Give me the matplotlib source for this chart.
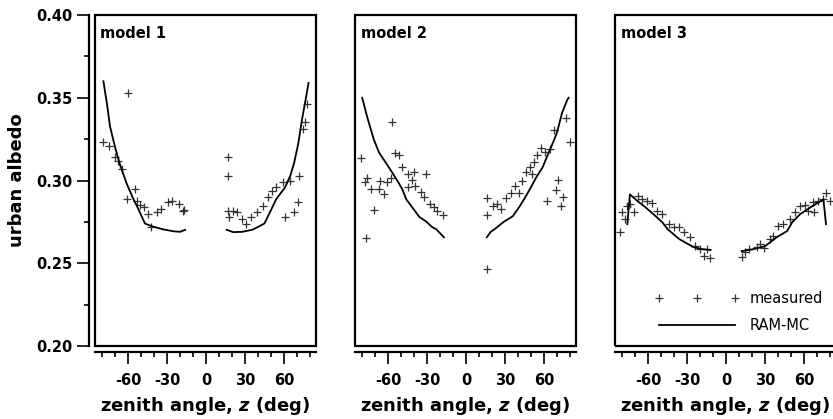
import numpy as np
import matplotlib
matplotlib.use('Agg')
import matplotlib.pyplot as plt
from matplotlib.patches import Rectangle
from matplotlib.ticker import MultipleLocator

plt.rcParams['font.family'] = 'DejaVu Sans'
plt.rcParams['font.weight'] = 'bold'
plt.rcParams['axes.unicode_minus'] = False
plt.rcParams['mathtext.fontset'] = 'custom'
plt.rcParams['mathtext.it'] = 'DejaVu Sans:italic:bold'

titles = ['model 1', 'model 2', 'model 3']

# measured albedo, model 1
meas1_x = [-79, -75, -70, -68, -65, -60, -61, -55, -53, -51, -48, -45, -42, -38, -35,
           -29, -26, -21, -18, -17,
           17, 17, 17, 18, 21, 24, 28, 31, 35, 39, 44, 48, 51, 54, 59, 61, 65, 68,
           71, 72, 75, 76, 78]
meas1_y = [0.323, 0.3206, 0.3145, 0.3115, 0.3067, 0.353, 0.289, 0.2946, 0.2874, 0.285,
           0.284, 0.2796, 0.272, 0.281, 0.2826, 0.287, 0.2874, 0.2856, 0.2814, 0.282,
           0.3145, 0.303, 0.2814, 0.2777, 0.2814, 0.281, 0.2766, 0.2736, 0.2777, 0.281,
           0.2844, 0.290, 0.2935, 0.2958, 0.299, 0.278, 0.300, 0.281, 0.287, 0.3025,
           0.331, 0.3356, 0.346]
# RAM-MC, model 1 (negative and positive branch)
ram1_xl = [-79, -76, -74, -70, -66, -61, -56, -52, -47, -41, -33, -25, -20, -16]
ram1_yl = [0.360, 0.345, 0.333, 0.320, 0.309, 0.298, 0.289, 0.2826, 0.274, 0.2722,
           0.2705, 0.2693, 0.269, 0.2702]
ram1_xr = [16, 21, 28, 36, 45, 50, 54, 61, 65, 68, 71, 74, 77, 79]
ram1_yr = [0.2702, 0.2688, 0.269, 0.2703, 0.274, 0.282, 0.2886, 0.296, 0.303, 0.311,
           0.322, 0.337, 0.350, 0.359]

# model 2
meas2_x = [-81, -78, -76, -73, -71, -77, -67, -66, -63, -61, -58, -57, -55, -52, -49,
           -45, -45, -42, -40, -39, -35, -31, -32, -28, -25, -22, -18,
           16, 16, 16, 21, 24, 27, 31, 35, 38, 41, 43, 46, 49, 51, 52, 55, 58, 61,
           65, 68, 77, 80, 62, 69, 71, 75, 73]
meas2_y = [0.3139, 0.2988, 0.3018, 0.2946, 0.282, 0.2652, 0.2946, 0.2995, 0.2916,
           0.2988, 0.3018, 0.3356, 0.3169, 0.3157, 0.3079, 0.3037, 0.2958, 0.3006,
           0.3049, 0.2965, 0.2928, 0.3037, 0.2898, 0.2856, 0.2838, 0.2814, 0.279,
           0.2465, 0.279, 0.2892, 0.2844, 0.2856, 0.2826, 0.2892, 0.2922, 0.2965,
           0.2922, 0.2995, 0.305, 0.3079, 0.3037, 0.3109, 0.3157, 0.3199, 0.3175,
           0.3193, 0.3307, 0.338, 0.323, 0.2874, 0.294, 0.3001, 0.2898, 0.2844]
ram2_xl = [-80, -76, -71, -67, -62, -57, -53, -49, -46, -42, -36, -31, -26, -23, -17]
ram2_yl = [0.350, 0.338, 0.3247, 0.3169, 0.311, 0.305, 0.300, 0.2946, 0.2886, 0.2844,
           0.278, 0.2754, 0.2718, 0.2706, 0.2657]
ram2_xr = [16, 19, 23, 29, 36, 41, 46, 50, 54, 59, 64, 67, 70, 74, 78, 79]
ram2_yr = [0.2657, 0.269, 0.2712, 0.275, 0.2784, 0.284, 0.2904, 0.296, 0.3018, 0.308,
           0.3175, 0.323, 0.3289, 0.341, 0.3488, 0.350]

# model 3
meas3_x = [-82, -80, -78, -76, -74, -71, -68, -65, -61, -57, -53, -49, -44, -40, -36,
           -32, -28, -24, -20, -17, -15, -12,
           12, 15, 18, 24, 26, 29, 34, 36, 40, 44, 49, 53, 57, 61, 63, 67, 68, 71,
           75, 77, 80]
meas3_y = [0.2688, 0.2808, 0.2766, 0.2844, 0.2856, 0.2808, 0.2904, 0.2886, 0.2874,
           0.2862, 0.2814, 0.2796, 0.2736, 0.2718, 0.2718, 0.2688, 0.2658, 0.2604,
           0.2585, 0.2543, 0.2585, 0.2531,
           0.2537, 0.2567, 0.2585, 0.2597, 0.2615, 0.2591, 0.2646, 0.2664, 0.2724,
           0.2736, 0.2766, 0.2808, 0.2844, 0.285, 0.2814, 0.2868, 0.2808, 0.2874,
           0.2886, 0.2922, 0.2874]
ram3_xl = [-76, -74, -68, -62, -55, -49, -45, -36, -25, -18, -12]
ram3_yl = [0.2736, 0.2916, 0.2875, 0.2838, 0.279, 0.2747, 0.2706, 0.2646, 0.2597,
           0.2585, 0.258]
ram3_xr = [12, 21, 30, 39, 47, 51, 57, 65, 75, 77]
ram3_yr = [0.2573, 0.2585, 0.2603, 0.2657, 0.2694, 0.2748, 0.2796, 0.2838, 0.2886,
           0.2736]

meas_x = [meas1_x, meas2_x, meas3_x]
meas_y = [meas1_y, meas2_y, meas3_y]
ram_l = [(ram1_xl, ram1_yl), (ram2_xl, ram2_yl), (ram3_xl, ram3_yl)]
ram_r = [(ram1_xr, ram1_yr), (ram2_xr, ram2_yr), (ram3_xr, ram3_yr)]

fig = plt.figure(figsize=(8.33, 4.19), dpi=100)
lefts = [0.1140, 0.4262, 0.7383]

for i in range(3):
    ax = fig.add_axes([lefts[i], 0.1742, 0.2653, 0.790])
    ax.plot(meas_x[i], meas_y[i], '+', color='#333333', ms=6, mew=0.9, label='measured')
    ax.plot(ram_l[i][0], ram_l[i][1], color='k', lw=1.3, label='RAM-MC')
    ax.plot(ram_r[i][0], ram_r[i][1], color='k', lw=1.3)
    ax.set_xlim(-85.5, 84.7)
    ax.set_ylim(0.20, 0.40)

    # closed frame plus detached axis lines
    ax.add_patch(Rectangle((0, 0), 1, 1, transform=ax.transAxes, fill=False,
                           lw=1.6, ec='k', clip_on=False, zorder=5))
    ax.spines['top'].set_visible(False)
    ax.spines['right'].set_visible(False)
    ax.spines['bottom'].set_position(('outward', 4))
    ax.spines['bottom'].set_linewidth(1.6)

    ax.xaxis.set_major_locator(MultipleLocator(30))
    ax.xaxis.set_minor_locator(MultipleLocator(10))
    ax.tick_params(axis='x', which='major', direction='out', length=8.5, width=1.2,
                   pad=7, labelsize=10.5)
    ax.tick_params(axis='x', which='minor', direction='out', length=3.8, width=1.2)
    ax.set_xlabel(r'zenith angle, $\mathit{z}$ (deg)', fontsize=13, fontweight='bold',
                  labelpad=5)

    if i == 0:
        ax.spines['left'].set_position(('outward', 4))
        ax.spines['left'].set_linewidth(1.6)
        ax.yaxis.set_major_locator(MultipleLocator(0.05))
        ax.yaxis.set_minor_locator(MultipleLocator(0.025))
        ax.yaxis.set_major_formatter('{x:.2f}')
        ax.tick_params(axis='y', which='major', direction='out', length=8.5, width=1.2,
                       pad=4, labelsize=10.5)
        ax.tick_params(axis='y', which='minor', direction='out', length=3.8, width=1.2)
        ax.set_ylabel('urban albedo', fontsize=13, fontweight='bold', labelpad=7)
    else:
        ax.spines['left'].set_visible(False)
        ax.set_yticks([])

    ax.text(0.025, 0.967, titles[i], transform=ax.transAxes, ha='left', va='top',
            fontsize=10.5, fontweight='bold')

    if i == 2:
        ax.legend(loc='lower right', frameon=False, numpoints=3, handlelength=5.8,
                  handletextpad=0.7, labelspacing=0.8,
                  prop={'size': 10.5, 'weight': 'normal'})

fig.savefig('out.png', dpi=100)
